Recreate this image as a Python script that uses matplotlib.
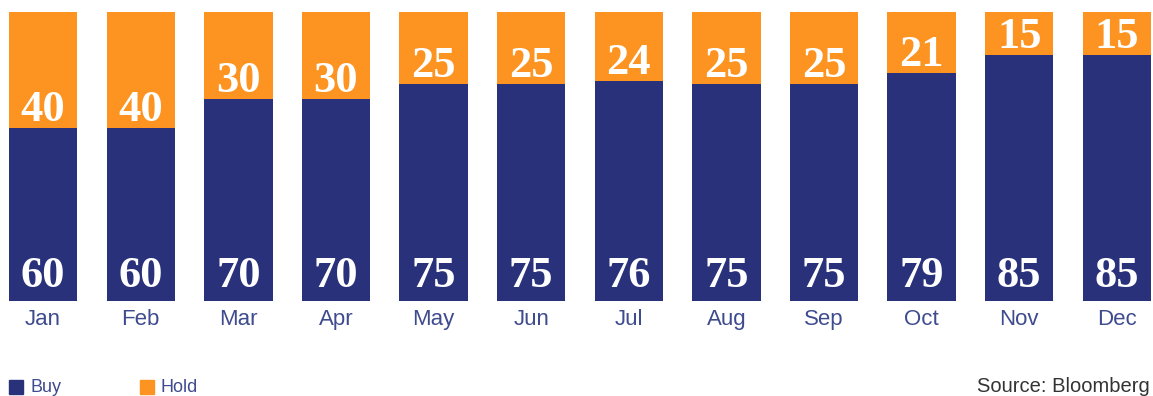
import numpy as np
import matplotlib
matplotlib.use('Agg')
import matplotlib.pyplot as plt
from matplotlib.patches import Rectangle

months = ['Jan', 'Feb', 'Mar', 'Apr', 'May', 'Jun', 'Jul', 'Aug', 'Sep', 'Oct', 'Nov', 'Dec']
buy = [60, 60, 70, 70, 75, 75, 76, 75, 75, 79, 85, 85]
hold = [40, 40, 30, 30, 25, 25, 24, 25, 25, 21, 15, 15]

navy = '#29317a'
orange = '#fd9320'
label_blue = '#3e4b8e'

fig = plt.figure(figsize=(11.53, 3.96), dpi=100)
W, H = 1153, 396
ax = fig.add_axes([9 / W, (H - 301) / H, (1151 - 9) / W, (301 - 12) / H])

x = np.arange(len(months))
width = 0.7
ax.bar(x, buy, width, color=navy)
ax.bar(x, hold, width, bottom=buy, color=orange)

serif = dict(family='Liberation Serif', weight='bold', size=32, color='white',
             ha='center', va='baseline')
for i in range(len(months)):
    ax.text(x[i], 5.0, str(buy[i]), **serif)
    ax.text(x[i], buy[i] + 2.4, str(hold[i]), **serif)

ax.set_xlim(-width / 2, len(months) - 1 + width / 2)
ax.set_ylim(0, 100)
ax.set_xticks(x)
ax.set_xticklabels(months, family='Liberation Sans', fontsize=16, color=label_blue)
ax.tick_params(axis='x', length=0, pad=6)
ax.set_yticks([])
for s in ax.spines.values():
    s.set_visible(False)

# legend drawn by hand along the bottom edge
for x0, c, name in [(9, navy, 'Buy'), (140, orange, 'Hold')]:
    fig.patches.append(Rectangle((x0 / W, (H - 394) / H), 14 / W, 14 / H,
                                 transform=fig.transFigure, color=c))
    fig.text((x0 + 21) / W, (H - 388) / H, name, family='Liberation Sans',
             fontsize=13, color=label_blue, va='center', ha='left')

fig.text(1150 / W, (H - 386) / H, 'Source: Bloomberg', family='Liberation Sans',
         fontsize=14.5, color='#333333', va='center', ha='right')

fig.savefig('out.png', dpi=100)
